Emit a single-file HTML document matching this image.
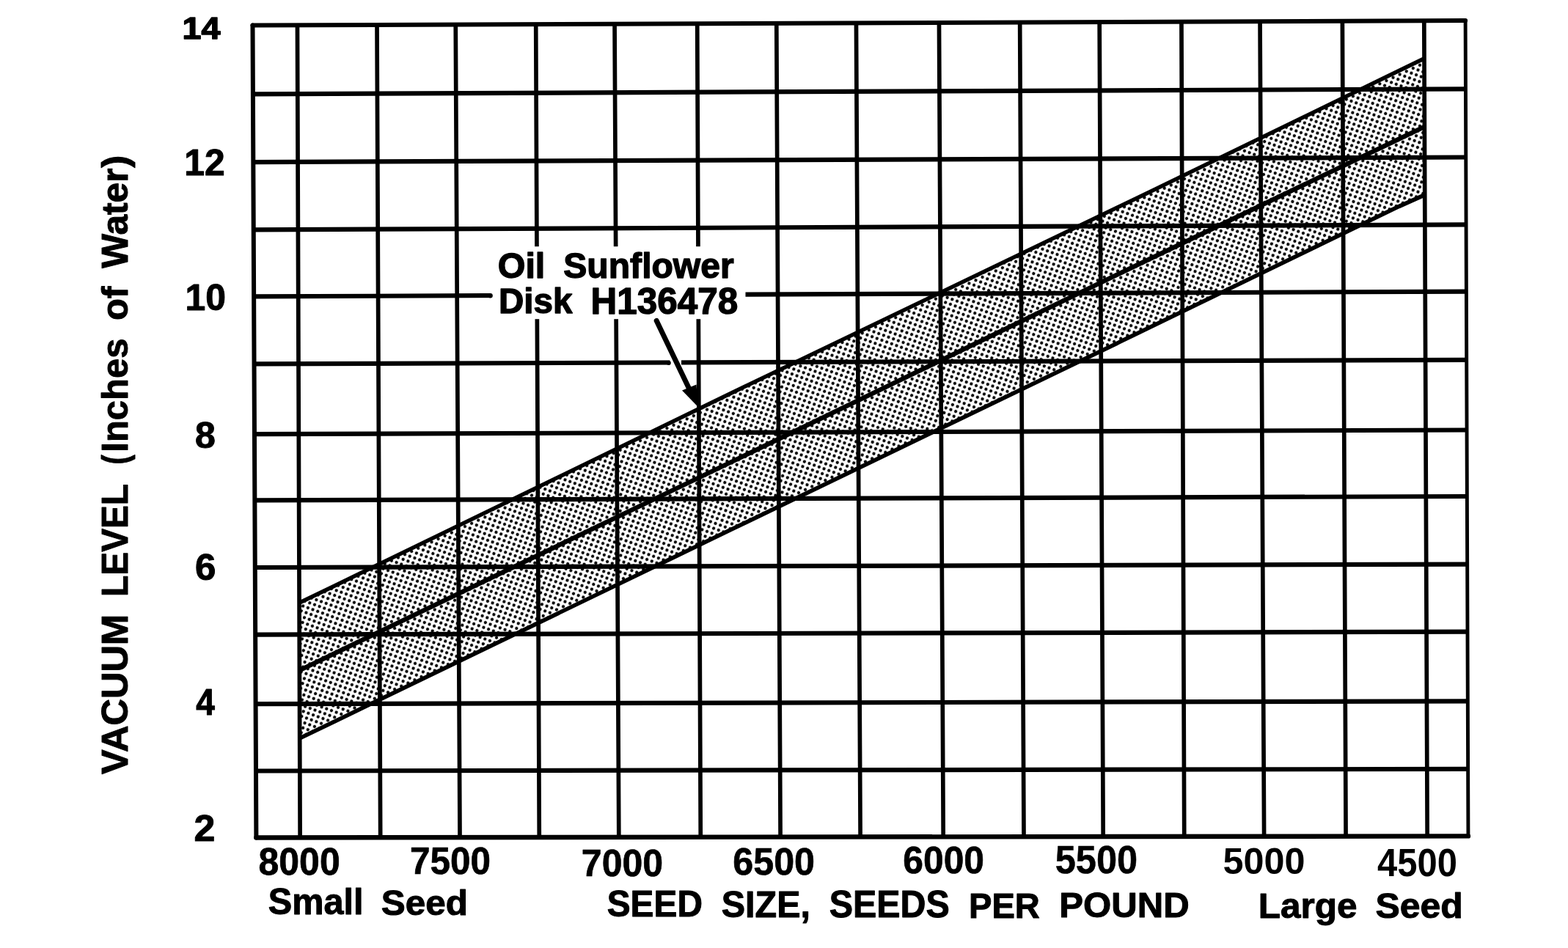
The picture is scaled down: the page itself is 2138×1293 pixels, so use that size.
<!DOCTYPE html>
<html lang="en"><head><meta charset="utf-8"><title>Vacuum Level vs Seed Size - Oil Sunflower Disk H136478</title>
<style>
html,body{margin:0;padding:0;background:#fff;}
body{width:2138px;height:1293px;overflow:hidden;}
svg{display:block;}
text{font-family:"Liberation Sans",sans-serif;font-weight:700;fill:#000;stroke:#000;stroke-linejoin:round;}
</style></head><body>
<svg width="2138" height="1293" viewBox="0 0 2138 1293">
<defs>
<pattern id="dots" width="7.1" height="7.1" patternUnits="userSpaceOnUse" patternTransform="rotate(20)">
<rect width="7.1" height="7.1" fill="#fff"/><circle cx="3.55" cy="3.55" r="2.15" fill="#000"/>
</pattern>
</defs>
<rect width="2138" height="1293" fill="#fff"/>
<polygon points="408.0,822.3 453.7,800.2 997.4,536.0 1557.4,266.75 1907.4,96.5 1943.0,79.2 1943.0,265.6 1907.4,281.6 1557.4,451.6 997.4,722.1 457.4,983.4 408.0,1007.2" fill="url(#dots)"/>
<path d="M405.45 34.36L409.14 1142.42M514.01 33.94L518.68 1142.28M621.26 33.51L627.02 1142.14M730.71 33.09L735.27 1142.00M838.05 32.66L843.82 1141.87M950.70 32.22L955.27 1141.73M1058.77 31.80L1064.10 1141.59M1167.45 31.37L1173.11 1141.45M1280.45 30.93L1286.21 1141.31M1390.66 30.49L1396.00 1141.17M1499.17 30.07L1504.19 1141.03M1610.93 29.63L1614.74 1140.89M1718.05 29.21L1723.60 1140.75M1830.38 28.77L1835.07 1140.61M1941.80 28.33L1946.16 1140.47" stroke="#000" stroke-width="5.7" fill="none"/>
<path d="M344.91 128.30L1998.44 121.31M345.32 221.10L1998.76 214.50M345.73 313.30L1999.08 306.40M346.13 404.40L1999.39 397.60M346.54 496.39L1999.71 490.80M346.96 592.19L2000.04 586.50M347.36 682.39L2000.35 677.00M347.76 773.99L2000.67 769.60M348.17 865.59L2000.98 861.70M348.58 960.19L2001.31 956.30M348.99 1051.49L2001.62 1048.90" stroke="#000" stroke-width="6.2" fill="none"/>
<line x1="344.50" y1="34.60" x2="1998.12" y2="28.11" stroke="#000" stroke-width="6.0" stroke-linecap="round"/>
<line x1="1998.12" y1="28.11" x2="2001.94" y2="1140.40" stroke="#000" stroke-width="4.9" stroke-linecap="round"/>
<line x1="2001.94" y1="1140.40" x2="349.39" y2="1142.49" stroke="#000" stroke-width="6.4" stroke-linecap="round"/>
<line x1="349.39" y1="1142.49" x2="344.50" y2="34.60" stroke="#000" stroke-width="6.0" stroke-linecap="round"/>
<polyline points="408.0,822.3 453.7,800.2 997.4,536.0 1557.4,266.75 1907.4,96.5 1943.0,79.2" stroke="#000" stroke-width="5.4" fill="none" stroke-linejoin="round"/>
<polyline points="408.0,914.5 457.4,890.6 997.4,630.0 1557.4,358.1 1907.4,189.6 1943.0,172.5" stroke="#000" stroke-width="6.3" fill="none" stroke-linejoin="round"/>
<polyline points="408.0,1007.2 457.4,983.4 997.4,722.1 1557.4,451.6 1907.4,281.6 1943.0,265.6" stroke="#000" stroke-width="5.6" fill="none" stroke-linejoin="round"/>
<rect x="669" y="336.2" width="347.5" height="99.0" fill="#fff"/>
<circle cx="668.6" cy="403.2" r="3.2" fill="#000"/>
<rect x="913.3" y="489" width="15.7" height="13" fill="#fff"/>
<circle cx="911.8" cy="494.9" r="3.0" fill="#000"/>
<line x1="895.2" y1="437.5" x2="941.5" y2="534" stroke="#000" stroke-width="7.0" stroke-linecap="round"/>
<polygon points="951.8,555 930,532.5 949.5,524.5" fill="#000"/>
<text stroke-width="1.5" transform="translate(248.53 53.36) scale(1.0811 1)" font-size="43.16">14</text>
<text stroke-width="1.0" transform="translate(251.24 238.67) scale(0.9847 1)" font-size="50.59">12</text>
<text stroke-width="1.0" transform="translate(252.51 423.47) scale(0.9897 1)" font-size="50.36">10</text>
<text stroke-width="1.0" transform="translate(265.92 611.34) scale(0.9992 1)" font-size="50.07">8</text>
<text stroke-width="1.0" transform="translate(266.03 790.55) scale(1.0201 1)" font-size="50.07">6</text>
<text stroke-width="1.0" transform="translate(267.26 975.04) scale(0.9272 1)" font-size="49.67">4</text>
<text stroke-width="1.0" transform="translate(264.59 1147.24) scale(1.0224 1)" font-size="50.79">2</text>
<text stroke-width="0.8" transform="translate(352.57 1193.16) scale(0.9740 1)" font-size="51.29">8000</text>
<text stroke-width="0.7" transform="translate(558.96 1192.23) scale(0.9672 1)" font-size="51.09">7500</text>
<text stroke-width="0.7" transform="translate(792.80 1194.68) scale(0.9554 1)" font-size="52.40">7000</text>
<text stroke-width="0.7" transform="translate(999.25 1193.48) scale(0.9713 1)" font-size="51.74">6500</text>
<text stroke-width="0.7" transform="translate(1231.26 1191.49) scale(0.9693 1)" font-size="51.37">6000</text>
<text stroke-width="0.5" transform="translate(1438.65 1191.37) scale(0.9549 1)" font-size="52.97">5500</text>
<text stroke-width="0.0" transform="translate(1667.56 1192.43) scale(0.9933 1)" font-size="50.70">5000</text>
<text stroke-width="0.0" transform="translate(1878.10 1194.51) scale(0.9279 1)" font-size="52.77">4500</text>
<text stroke-width="1.0" transform="translate(365.74 1247.25) scale(0.9744 1)" font-size="49.91">Small</text>
<text stroke-width="1.0" transform="translate(519.71 1248.06) scale(1.0258 1)" font-size="48.20">Seed</text>
<text stroke-width="1.0" transform="translate(827.70 1250.17) scale(0.9409 1)" font-size="50.83">SEED</text>
<text stroke-width="1.0" transform="translate(983.74 1251.01) scale(0.9568 1)" font-size="50.70">SIZE,</text>
<text stroke-width="1.0" transform="translate(1130.68 1251.43) scale(0.9508 1)" font-size="50.92">SEEDS</text>
<text stroke-width="1.0" transform="translate(1321.02 1251.61) scale(0.9671 1)" font-size="48.70">PER</text>
<text stroke-width="1.0" transform="translate(1444.31 1251.49) scale(1.0045 1)" font-size="48.95">POUND</text>
<text stroke-width="1.0" transform="translate(1715.72 1252.42) scale(1.0387 1)" font-size="47.65">Large</text>
<text stroke-width="1.0" transform="translate(1875.46 1252.17) scale(1.0408 1)" font-size="48.01">Seed</text>
<text stroke-width="1.4" transform="translate(678.71 378.66) scale(0.9918 1)" font-size="48.85">Oil</text>
<text stroke-width="1.4" transform="translate(768.29 378.66) scale(0.9846 1)" font-size="48.85">Sunflower</text>
<text stroke-width="1.4" transform="translate(679.91 427.28) scale(1.0010 1)" font-size="47.50">Disk</text>
<text stroke-width="1.4" transform="translate(805.59 427.93) scale(0.9827 1)" font-size="50.30">H136478</text>
<text stroke-width="1.0" transform="translate(173.68 1055.91) rotate(-90) scale(1.0285 1)" font-size="49.17">VACUUM</text>
<text stroke-width="1.0" transform="translate(173.68 813.89) rotate(-90) scale(0.9715 1)" font-size="49.17">LEVEL</text>
<text stroke-width="1.0" transform="translate(173.68 633.42) rotate(-90) scale(0.8012 1)" font-size="49.17">(</text>
<text stroke-width="1.0" transform="translate(173.68 616.64) rotate(-90) scale(0.9953 1)" font-size="49.17">Inches</text>
<text stroke-width="1.0" transform="translate(173.68 437.12) rotate(-90) scale(1.0007 1)" font-size="49.17">of</text>
<text stroke-width="1.0" transform="translate(173.68 365.66) rotate(-90) scale(1.0107 1)" font-size="49.17">Water</text>
<text stroke-width="1.0" transform="translate(173.68 228.70) rotate(-90) scale(1.0325 1)" font-size="49.17">)</text>
</svg></body></html>
